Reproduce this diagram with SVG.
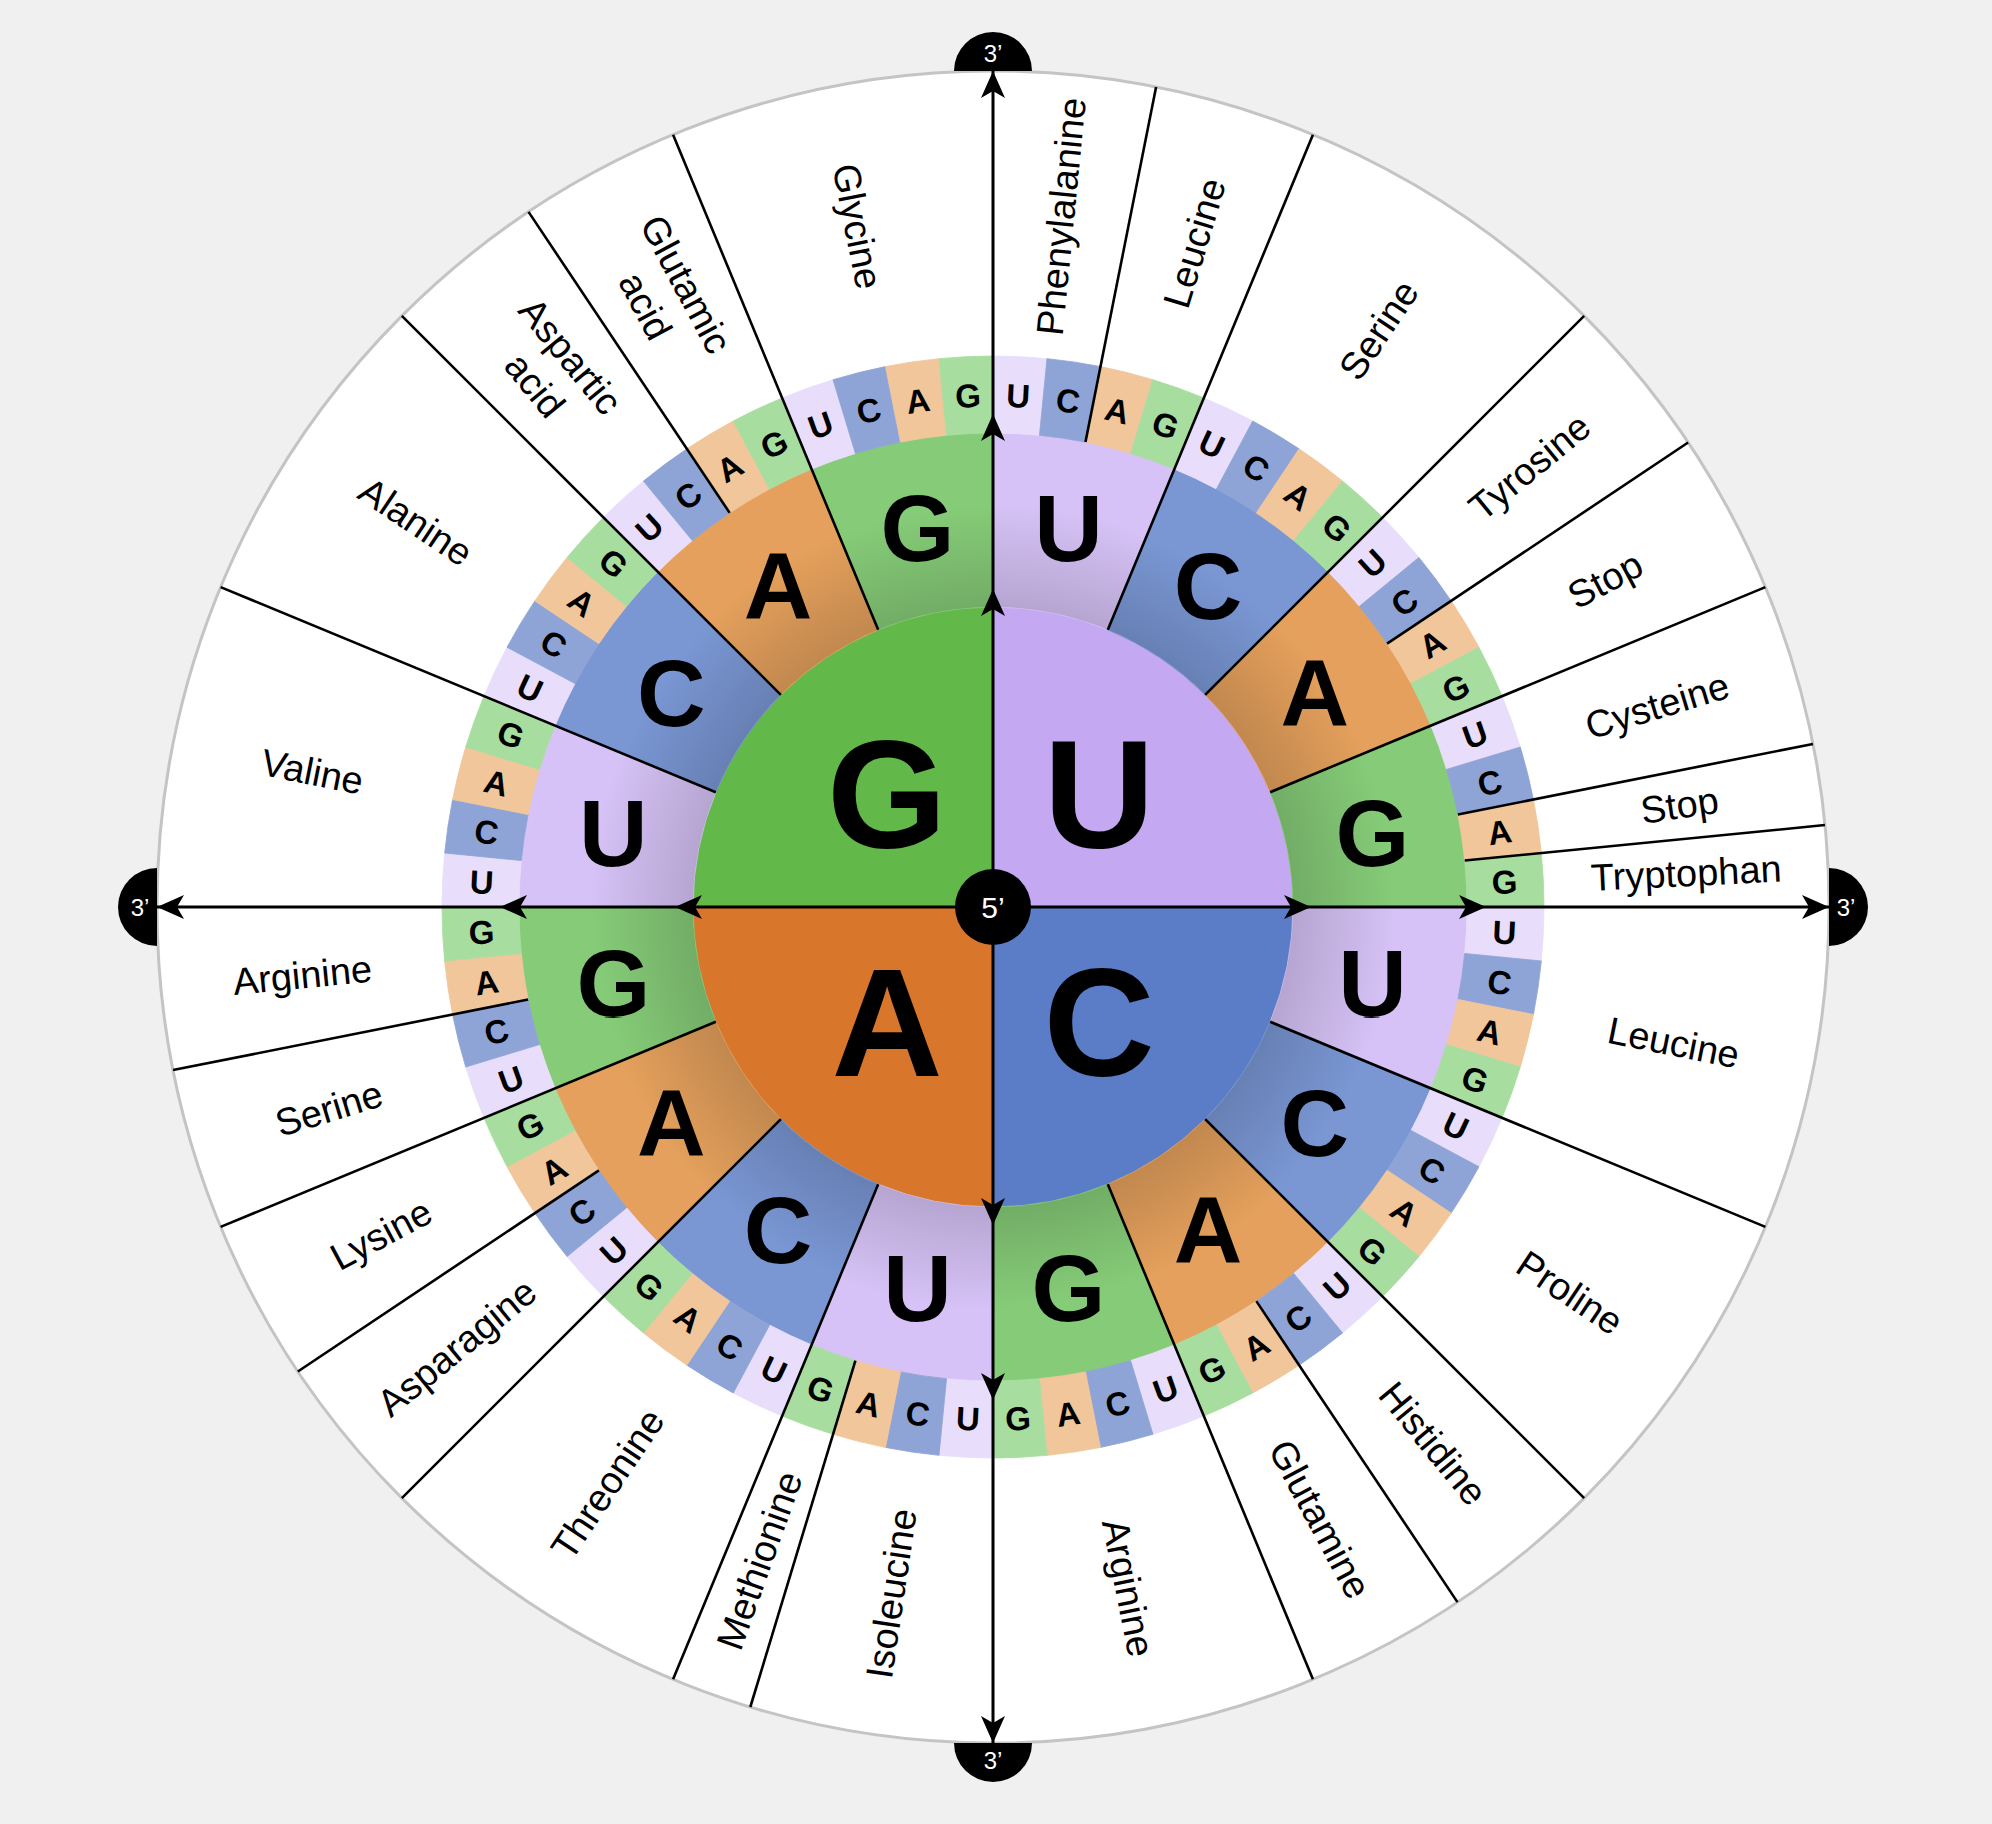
<svg xmlns="http://www.w3.org/2000/svg" width="1992" height="1824" viewBox="0 0 1992 1824">
<style>
.iU{fill:#c4a8f2}.iC{fill:#5b7cc6}.iA{fill:#d8762c}.iG{fill:#63b84a}
.mU{fill:#d6c2f6;stroke:#d6c2f6}.mC{fill:#7a97d4;stroke:#7a97d4}.mA{fill:#e4a05c;stroke:#e4a05c}.mG{fill:#86cc78;stroke:#86cc78}
.tU{fill:#e8ddfb;stroke:#e8ddfb}.tC{fill:#8fa4d6;stroke:#8fa4d6}.tA{fill:#f0c69a;stroke:#f0c69a}.tG{fill:#a8dda0;stroke:#a8dda0}
use{stroke-width:0.8}
text{font-family:"Liberation Sans",Arial,Helvetica,sans-serif;text-anchor:middle}
.big{font-size:154px;font-weight:bold}
.l2{font-size:95px;font-weight:bold}
.l3{font-size:33px;font-weight:bold}
.aa{font-size:38px}
.end{font-size:24px;fill:#fff}
.div{stroke:#000;stroke-width:2.6;fill:none}
.ax{stroke:#000;stroke-width:3;fill:none}
</style>
<defs>
<path id="s3" d="M993,356 A551,551 0 0 1 1047.01,358.65 L1039.46,435.28 A474,474 0 0 0 993,433 Z"/>
<path id="s2" d="M993,433 A474,474 0 0 1 1174.39,469.08 L1107.80,629.84 A300,300 0 0 0 993,607 Z"/>
<path id="ah" d="M0,0 L-12,27 L0,20 L12,27 Z" fill="#000"/>
<radialGradient id="shade" gradientUnits="userSpaceOnUse" cx="993" cy="907" r="474">
<stop offset="0.633" stop-color="#000" stop-opacity="0.15"/>
<stop offset="0.85" stop-color="#000" stop-opacity="0"/>
<stop offset="1" stop-color="#000" stop-opacity="0"/>
</radialGradient>
</defs>
<rect width="1992" height="1824" fill="#f0f0f0"/>
<circle cx="993" cy="907" r="836" fill="#fff" stroke="#c4c4c4" stroke-width="3"/>

<g id="first-base">
<path class="iU" d="M993,907 L993,607 A300,300 0 0 1 1293,907 Z"/>
<path class="iC" d="M993,907 L1293,907 A300,300 0 0 1 993,1207 Z"/>
<path class="iA" d="M993,907 L993,1207 A300,300 0 0 1 693,907 Z"/>
<path class="iG" d="M993,907 L693,907 A300,300 0 0 1 993,607 Z"/>
</g>

<g id="second-base">
<use href="#s2" class="mU" transform="rotate(0 993 907)"/>
<use href="#s2" class="mC" transform="rotate(22.5 993 907)"/>
<use href="#s2" class="mA" transform="rotate(45 993 907)"/>
<use href="#s2" class="mG" transform="rotate(67.5 993 907)"/>
<use href="#s2" class="mU" transform="rotate(90 993 907)"/>
<use href="#s2" class="mC" transform="rotate(112.5 993 907)"/>
<use href="#s2" class="mA" transform="rotate(135 993 907)"/>
<use href="#s2" class="mG" transform="rotate(157.5 993 907)"/>
<use href="#s2" class="mU" transform="rotate(180 993 907)"/>
<use href="#s2" class="mC" transform="rotate(202.5 993 907)"/>
<use href="#s2" class="mA" transform="rotate(225 993 907)"/>
<use href="#s2" class="mG" transform="rotate(247.5 993 907)"/>
<use href="#s2" class="mU" transform="rotate(270 993 907)"/>
<use href="#s2" class="mC" transform="rotate(292.5 993 907)"/>
<use href="#s2" class="mA" transform="rotate(315 993 907)"/>
<use href="#s2" class="mG" transform="rotate(337.5 993 907)"/>
<path fill="url(#shade)" fill-rule="evenodd" d="M993,433 A474,474 0 1 1 993,1381 A474,474 0 1 1 993,433 Z M993,607 A300,300 0 1 0 993,1207 A300,300 0 1 0 993,607 Z"/>
</g>

<g id="third-base">
<use href="#s3" class="tU" transform="rotate(0 993 907)"/>
<use href="#s3" class="tC" transform="rotate(5.625 993 907)"/>
<use href="#s3" class="tA" transform="rotate(11.25 993 907)"/>
<use href="#s3" class="tG" transform="rotate(16.875 993 907)"/>
<use href="#s3" class="tU" transform="rotate(22.5 993 907)"/>
<use href="#s3" class="tC" transform="rotate(28.125 993 907)"/>
<use href="#s3" class="tA" transform="rotate(33.75 993 907)"/>
<use href="#s3" class="tG" transform="rotate(39.375 993 907)"/>
<use href="#s3" class="tU" transform="rotate(45 993 907)"/>
<use href="#s3" class="tC" transform="rotate(50.625 993 907)"/>
<use href="#s3" class="tA" transform="rotate(56.25 993 907)"/>
<use href="#s3" class="tG" transform="rotate(61.875 993 907)"/>
<use href="#s3" class="tU" transform="rotate(67.5 993 907)"/>
<use href="#s3" class="tC" transform="rotate(73.125 993 907)"/>
<use href="#s3" class="tA" transform="rotate(78.75 993 907)"/>
<use href="#s3" class="tG" transform="rotate(84.375 993 907)"/>
<use href="#s3" class="tU" transform="rotate(90 993 907)"/>
<use href="#s3" class="tC" transform="rotate(95.625 993 907)"/>
<use href="#s3" class="tA" transform="rotate(101.25 993 907)"/>
<use href="#s3" class="tG" transform="rotate(106.875 993 907)"/>
<use href="#s3" class="tU" transform="rotate(112.5 993 907)"/>
<use href="#s3" class="tC" transform="rotate(118.125 993 907)"/>
<use href="#s3" class="tA" transform="rotate(123.75 993 907)"/>
<use href="#s3" class="tG" transform="rotate(129.375 993 907)"/>
<use href="#s3" class="tU" transform="rotate(135 993 907)"/>
<use href="#s3" class="tC" transform="rotate(140.625 993 907)"/>
<use href="#s3" class="tA" transform="rotate(146.25 993 907)"/>
<use href="#s3" class="tG" transform="rotate(151.875 993 907)"/>
<use href="#s3" class="tU" transform="rotate(157.5 993 907)"/>
<use href="#s3" class="tC" transform="rotate(163.125 993 907)"/>
<use href="#s3" class="tA" transform="rotate(168.75 993 907)"/>
<use href="#s3" class="tG" transform="rotate(174.375 993 907)"/>
<use href="#s3" class="tU" transform="rotate(180 993 907)"/>
<use href="#s3" class="tC" transform="rotate(185.625 993 907)"/>
<use href="#s3" class="tA" transform="rotate(191.25 993 907)"/>
<use href="#s3" class="tG" transform="rotate(196.875 993 907)"/>
<use href="#s3" class="tU" transform="rotate(202.5 993 907)"/>
<use href="#s3" class="tC" transform="rotate(208.125 993 907)"/>
<use href="#s3" class="tA" transform="rotate(213.75 993 907)"/>
<use href="#s3" class="tG" transform="rotate(219.375 993 907)"/>
<use href="#s3" class="tU" transform="rotate(225 993 907)"/>
<use href="#s3" class="tC" transform="rotate(230.625 993 907)"/>
<use href="#s3" class="tA" transform="rotate(236.25 993 907)"/>
<use href="#s3" class="tG" transform="rotate(241.875 993 907)"/>
<use href="#s3" class="tU" transform="rotate(247.5 993 907)"/>
<use href="#s3" class="tC" transform="rotate(253.125 993 907)"/>
<use href="#s3" class="tA" transform="rotate(258.75 993 907)"/>
<use href="#s3" class="tG" transform="rotate(264.375 993 907)"/>
<use href="#s3" class="tU" transform="rotate(270 993 907)"/>
<use href="#s3" class="tC" transform="rotate(275.625 993 907)"/>
<use href="#s3" class="tA" transform="rotate(281.25 993 907)"/>
<use href="#s3" class="tG" transform="rotate(286.875 993 907)"/>
<use href="#s3" class="tU" transform="rotate(292.5 993 907)"/>
<use href="#s3" class="tC" transform="rotate(298.125 993 907)"/>
<use href="#s3" class="tA" transform="rotate(303.75 993 907)"/>
<use href="#s3" class="tG" transform="rotate(309.375 993 907)"/>
<use href="#s3" class="tU" transform="rotate(315 993 907)"/>
<use href="#s3" class="tC" transform="rotate(320.625 993 907)"/>
<use href="#s3" class="tA" transform="rotate(326.25 993 907)"/>
<use href="#s3" class="tG" transform="rotate(331.875 993 907)"/>
<use href="#s3" class="tU" transform="rotate(337.5 993 907)"/>
<use href="#s3" class="tC" transform="rotate(343.125 993 907)"/>
<use href="#s3" class="tA" transform="rotate(348.75 993 907)"/>
<use href="#s3" class="tG" transform="rotate(354.375 993 907)"/>
</g>

<g id="connectors">
<g id="dividers" class="div">
<line x1="993" y1="607" x2="993" y2="71" transform="rotate(22.5 993 907)"/>
<line x1="993" y1="607" x2="993" y2="71" transform="rotate(45 993 907)"/>
<line x1="993" y1="607" x2="993" y2="71" transform="rotate(67.5 993 907)"/>
<line x1="993" y1="607" x2="993" y2="71" transform="rotate(112.5 993 907)"/>
<line x1="993" y1="607" x2="993" y2="71" transform="rotate(135 993 907)"/>
<line x1="993" y1="607" x2="993" y2="71" transform="rotate(157.5 993 907)"/>
<line x1="993" y1="607" x2="993" y2="71" transform="rotate(202.5 993 907)"/>
<line x1="993" y1="607" x2="993" y2="71" transform="rotate(225 993 907)"/>
<line x1="993" y1="607" x2="993" y2="71" transform="rotate(247.5 993 907)"/>
<line x1="993" y1="607" x2="993" y2="71" transform="rotate(292.5 993 907)"/>
<line x1="993" y1="607" x2="993" y2="71" transform="rotate(315 993 907)"/>
<line x1="993" y1="607" x2="993" y2="71" transform="rotate(337.5 993 907)"/>
<line x1="993" y1="433" x2="993" y2="71" transform="rotate(11.25 993 907)"/>
<line x1="993" y1="433" x2="993" y2="71" transform="rotate(56.25 993 907)"/>
<line x1="993" y1="433" x2="993" y2="71" transform="rotate(78.75 993 907)"/>
<line x1="993" y1="433" x2="993" y2="71" transform="rotate(84.375 993 907)"/>
<line x1="993" y1="433" x2="993" y2="71" transform="rotate(146.25 993 907)"/>
<line x1="993" y1="433" x2="993" y2="71" transform="rotate(196.875 993 907)"/>
<line x1="993" y1="433" x2="993" y2="71" transform="rotate(236.25 993 907)"/>
<line x1="993" y1="433" x2="993" y2="71" transform="rotate(258.75 993 907)"/>
<line x1="993" y1="433" x2="993" y2="71" transform="rotate(326.25 993 907)"/>
</g>
<g id="axes">
<line class="ax" x1="157" y1="907" x2="1829" y2="907"/>
<line class="ax" x1="993" y1="71" x2="993" y2="1743"/>
<use href="#ah" transform="translate(993 589)"/>
<use href="#ah" transform="translate(993 414)"/>
<use href="#ah" transform="translate(993 71)"/>
<use href="#ah" transform="rotate(90 993 907) translate(993 589)"/>
<use href="#ah" transform="rotate(90 993 907) translate(993 414)"/>
<use href="#ah" transform="rotate(90 993 907) translate(993 71)"/>
<use href="#ah" transform="rotate(180 993 907) translate(993 589)"/>
<use href="#ah" transform="rotate(180 993 907) translate(993 414)"/>
<use href="#ah" transform="rotate(180 993 907) translate(993 71)"/>
<use href="#ah" transform="rotate(270 993 907) translate(993 589)"/>
<use href="#ah" transform="rotate(270 993 907) translate(993 414)"/>
<use href="#ah" transform="rotate(270 993 907) translate(993 71)"/>
</g>
</g>

<g id="first-letters" class="big">
<text x="887" y="848">G</text>
<text x="1099" y="848">U</text>
<text x="887" y="1076">A</text>
<text x="1099" y="1076">C</text>
</g>

<g id="second-letters" class="l2">
<text x="993" y="554" transform="rotate(11.25 993 907) rotate(-11.25 993 520)">U</text>
<text x="993" y="554" transform="rotate(33.75 993 907) rotate(-33.75 993 520)">C</text>
<text x="993" y="554" transform="rotate(56.25 993 907) rotate(-56.25 993 520)">A</text>
<text x="993" y="554" transform="rotate(78.75 993 907) rotate(-78.75 993 520)">G</text>
<text x="993" y="554" transform="rotate(101.25 993 907) rotate(-101.25 993 520)">U</text>
<text x="993" y="554" transform="rotate(123.75 993 907) rotate(-123.75 993 520)">C</text>
<text x="993" y="554" transform="rotate(146.25 993 907) rotate(-146.25 993 520)">A</text>
<text x="993" y="554" transform="rotate(168.75 993 907) rotate(-168.75 993 520)">G</text>
<text x="993" y="554" transform="rotate(191.25 993 907) rotate(-191.25 993 520)">U</text>
<text x="993" y="554" transform="rotate(213.75 993 907) rotate(-213.75 993 520)">C</text>
<text x="993" y="554" transform="rotate(236.25 993 907) rotate(-236.25 993 520)">A</text>
<text x="993" y="554" transform="rotate(258.75 993 907) rotate(-258.75 993 520)">G</text>
<text x="993" y="554" transform="rotate(281.25 993 907) rotate(-281.25 993 520)">U</text>
<text x="993" y="554" transform="rotate(303.75 993 907) rotate(-303.75 993 520)">C</text>
<text x="993" y="554" transform="rotate(326.25 993 907) rotate(-326.25 993 520)">A</text>
<text x="993" y="554" transform="rotate(348.75 993 907) rotate(-348.75 993 520)">G</text>
</g>

<g id="third-letters" class="l3">
<text x="993" y="406.8" transform="rotate(2.8125 993 907)">U</text>
<text x="993" y="406.8" transform="rotate(8.4375 993 907)">C</text>
<text x="993" y="406.8" transform="rotate(14.0625 993 907)">A</text>
<text x="993" y="406.8" transform="rotate(19.6875 993 907)">G</text>
<text x="993" y="406.8" transform="rotate(25.3125 993 907)">U</text>
<text x="993" y="406.8" transform="rotate(30.9375 993 907)">C</text>
<text x="993" y="406.8" transform="rotate(36.5625 993 907)">A</text>
<text x="993" y="406.8" transform="rotate(42.1875 993 907)">G</text>
<text x="993" y="406.8" transform="rotate(47.8125 993 907) rotate(-90 993 395)">U</text>
<text x="993" y="406.8" transform="rotate(53.4375 993 907) rotate(-90 993 395)">C</text>
<text x="993" y="406.8" transform="rotate(59.0625 993 907) rotate(-90 993 395)">A</text>
<text x="993" y="406.8" transform="rotate(64.6875 993 907) rotate(-90 993 395)">G</text>
<text x="993" y="406.8" transform="rotate(70.3125 993 907) rotate(-90 993 395)">U</text>
<text x="993" y="406.8" transform="rotate(75.9375 993 907) rotate(-90 993 395)">C</text>
<text x="993" y="406.8" transform="rotate(81.5625 993 907) rotate(-90 993 395)">A</text>
<text x="993" y="406.8" transform="rotate(87.1875 993 907) rotate(-90 993 395)">G</text>
<text x="993" y="406.8" transform="rotate(92.8125 993 907) rotate(-90 993 395)">U</text>
<text x="993" y="406.8" transform="rotate(98.4375 993 907) rotate(-90 993 395)">C</text>
<text x="993" y="406.8" transform="rotate(104.0625 993 907) rotate(-90 993 395)">A</text>
<text x="993" y="406.8" transform="rotate(109.6875 993 907) rotate(-90 993 395)">G</text>
<text x="993" y="406.8" transform="rotate(115.3125 993 907) rotate(-90 993 395)">U</text>
<text x="993" y="406.8" transform="rotate(120.9375 993 907) rotate(-90 993 395)">C</text>
<text x="993" y="406.8" transform="rotate(126.5625 993 907) rotate(-90 993 395)">A</text>
<text x="993" y="406.8" transform="rotate(132.1875 993 907) rotate(-90 993 395)">G</text>
<text x="993" y="406.8" transform="rotate(137.8125 993 907) rotate(-180 993 395)">U</text>
<text x="993" y="406.8" transform="rotate(143.4375 993 907) rotate(-180 993 395)">C</text>
<text x="993" y="406.8" transform="rotate(149.0625 993 907) rotate(-180 993 395)">A</text>
<text x="993" y="406.8" transform="rotate(154.6875 993 907) rotate(-180 993 395)">G</text>
<text x="993" y="406.8" transform="rotate(160.3125 993 907) rotate(-180 993 395)">U</text>
<text x="993" y="406.8" transform="rotate(165.9375 993 907) rotate(-180 993 395)">C</text>
<text x="993" y="406.8" transform="rotate(171.5625 993 907) rotate(-180 993 395)">A</text>
<text x="993" y="406.8" transform="rotate(177.1875 993 907) rotate(-180 993 395)">G</text>
<text x="993" y="406.8" transform="rotate(182.8125 993 907) rotate(-180 993 395)">U</text>
<text x="993" y="406.8" transform="rotate(188.4375 993 907) rotate(-180 993 395)">C</text>
<text x="993" y="406.8" transform="rotate(194.0625 993 907) rotate(-180 993 395)">A</text>
<text x="993" y="406.8" transform="rotate(199.6875 993 907) rotate(-180 993 395)">G</text>
<text x="993" y="406.8" transform="rotate(205.3125 993 907) rotate(-180 993 395)">U</text>
<text x="993" y="406.8" transform="rotate(210.9375 993 907) rotate(-180 993 395)">C</text>
<text x="993" y="406.8" transform="rotate(216.5625 993 907) rotate(-180 993 395)">A</text>
<text x="993" y="406.8" transform="rotate(222.1875 993 907) rotate(-180 993 395)">G</text>
<text x="993" y="406.8" transform="rotate(227.8125 993 907) rotate(-270 993 395)">U</text>
<text x="993" y="406.8" transform="rotate(233.4375 993 907) rotate(-270 993 395)">C</text>
<text x="993" y="406.8" transform="rotate(239.0625 993 907) rotate(-270 993 395)">A</text>
<text x="993" y="406.8" transform="rotate(244.6875 993 907) rotate(-270 993 395)">G</text>
<text x="993" y="406.8" transform="rotate(250.3125 993 907) rotate(-270 993 395)">U</text>
<text x="993" y="406.8" transform="rotate(255.9375 993 907) rotate(-270 993 395)">C</text>
<text x="993" y="406.8" transform="rotate(261.5625 993 907) rotate(-270 993 395)">A</text>
<text x="993" y="406.8" transform="rotate(267.1875 993 907) rotate(-270 993 395)">G</text>
<text x="993" y="406.8" transform="rotate(272.8125 993 907) rotate(-270 993 395)">U</text>
<text x="993" y="406.8" transform="rotate(278.4375 993 907) rotate(-270 993 395)">C</text>
<text x="993" y="406.8" transform="rotate(284.0625 993 907) rotate(-270 993 395)">A</text>
<text x="993" y="406.8" transform="rotate(289.6875 993 907) rotate(-270 993 395)">G</text>
<text x="993" y="406.8" transform="rotate(295.3125 993 907) rotate(-270 993 395)">U</text>
<text x="993" y="406.8" transform="rotate(300.9375 993 907) rotate(-270 993 395)">C</text>
<text x="993" y="406.8" transform="rotate(306.5625 993 907) rotate(-270 993 395)">A</text>
<text x="993" y="406.8" transform="rotate(312.1875 993 907) rotate(-270 993 395)">G</text>
<text x="993" y="406.8" transform="rotate(317.8125 993 907)">U</text>
<text x="993" y="406.8" transform="rotate(323.4375 993 907)">C</text>
<text x="993" y="406.8" transform="rotate(329.0625 993 907)">A</text>
<text x="993" y="406.8" transform="rotate(334.6875 993 907)">G</text>
<text x="993" y="406.8" transform="rotate(340.3125 993 907)">U</text>
<text x="993" y="406.8" transform="rotate(345.9375 993 907)">C</text>
<text x="993" y="406.8" transform="rotate(351.5625 993 907)">A</text>
<text x="993" y="406.8" transform="rotate(357.1875 993 907)">G</text>
</g>

<g id="amino-acids" class="aa">
<text x="1687" y="907" dy="0.35em" transform="rotate(-84.375 993 907)">Phenylalanine</text>
<text x="1687" y="907" dy="0.35em" transform="rotate(-73.125 993 907)">Leucine</text>
<text x="1687" y="907" dy="0.35em" transform="rotate(-56.25 993 907)">Serine</text>
<text x="1687" y="907" dy="0.35em" transform="rotate(-39.375 993 907)">Tyrosine</text>
<text x="1687" y="907" dy="0.35em" transform="rotate(-28.125 993 907)">Stop</text>
<text x="1687" y="907" dy="0.35em" transform="rotate(-16.875 993 907)">Cysteine</text>
<text x="1687" y="907" dy="0.35em" transform="rotate(-8.4375 993 907)">Stop</text>
<text x="1687" y="907" dy="0.35em" transform="rotate(-2.8125 993 907)">Tryptophan</text>
<text x="1687" y="907" dy="0.35em" transform="rotate(11.25 993 907)">Leucine</text>
<text x="1687" y="907" dy="0.35em" transform="rotate(33.75 993 907)">Proline</text>
<text x="1687" y="907" dy="0.35em" transform="rotate(50.625 993 907)">Histidine</text>
<text x="1687" y="907" dy="0.35em" transform="rotate(61.875 993 907)">Glutamine</text>
<text x="1687" y="907" dy="0.35em" transform="rotate(78.75 993 907)">Arginine</text>
<text x="299" y="907" dy="0.35em" transform="rotate(278.4375 993 907)">Isoleucine</text>
<text x="299" y="907" dy="0.35em" transform="rotate(289.6875 993 907)">Methionine</text>
<text x="299" y="907" dy="0.35em" transform="rotate(303.75 993 907)">Threonine</text>
<text x="299" y="907" dy="0.35em" transform="rotate(320.625 993 907)">Asparagine</text>
<text x="299" y="907" dy="0.35em" transform="rotate(331.875 993 907)">Lysine</text>
<text x="299" y="907" dy="0.35em" transform="rotate(343.125 993 907)">Serine</text>
<text x="299" y="907" dy="0.35em" transform="rotate(354.375 993 907)">Arginine</text>
<text x="299" y="907" dy="0.35em" transform="rotate(11.25 993 907)">Valine</text>
<text x="299" y="907" dy="0.35em" transform="rotate(33.75 993 907)">Alanine</text>
<text x="299" y="884" dy="0.35em" transform="rotate(50.625 993 907)">Aspartic</text>
<text x="299" y="930" dy="0.35em" transform="rotate(50.625 993 907)">acid</text>
<text x="299" y="884" dy="0.35em" transform="rotate(61.875 993 907)">Glutamic</text>
<text x="299" y="930" dy="0.35em" transform="rotate(61.875 993 907)">acid</text>
<text x="299" y="907" dy="0.35em" transform="rotate(78.75 993 907)">Glycine</text>
</g>

<g id="end-top"><path d="M954,71 A39,39 0 0 1 1032,71 Z"/><text class="end" x="993" y="62">3’</text></g>
<g id="end-right"><path d="M1829,868 A39,39 0 0 1 1829,946 Z"/><text class="end" x="1846" y="916">3’</text></g>
<g id="end-bottom"><path d="M1032,1743 A39,39 0 0 1 954,1743 Z"/><text class="end" x="993" y="1769">3’</text></g>
<g id="end-left"><path d="M157,946 A39,39 0 0 1 157,868 Z"/><text class="end" x="140" y="916">3’</text></g>
<g id="start-center"><circle cx="993" cy="907" r="38" fill="#000"/><text x="993" y="918" style="font-size:30px;fill:#fff">5’</text></g>
</svg>
